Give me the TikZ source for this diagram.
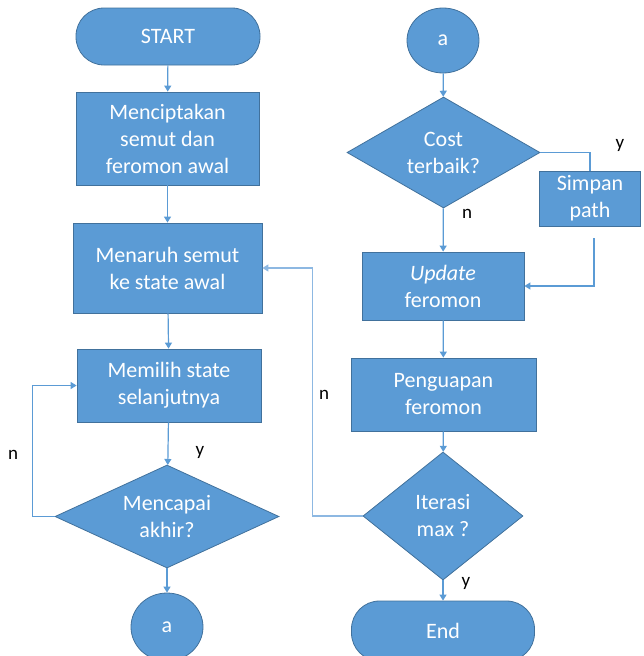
\documentclass[tikz,border=0pt]{standalone}
\usepackage{fontspec}
\setmainfont{Carlito}
\usetikzlibrary{shapes.geometric,arrows.meta}
\definecolor{fillc}{HTML}{5B9BD5}
\definecolor{bordc}{HTML}{41719C}
\definecolor{linec}{HTML}{5B9BD5}
\definecolor{loopc}{HTML}{8DB8E2}
\newcommand\myboxfont{\fontsize{22}{27}\selectfont}
\newcommand\mylabfont{\fontsize{19}{22}\selectfont}
\tikzset{
  base/.style={draw=bordc, fill=fillc, line width=0.8pt, text=white, font=\myboxfont, align=center, inner sep=0pt},
  proc/.style={base, rectangle},
  dec/.style={base, diamond},
  term/.style={base, rectangle, rounded corners=28pt},
  conn/.style={draw=linec, line width=1.2pt},
  arr/.style={conn, -{Triangle[length=6pt,width=7pt]}},
  loopline/.style={draw=loopc, line width=1.4pt, -{Triangle[length=6pt,width=7pt]}},
  lab/.style={font=\mylabfont, text=black, inner sep=0pt}
}
\begin{document}
\begin{tikzpicture}[x=1pt,y=-1pt]
\useasboundingbox (0,0) rectangle (644,656);
% left column
\node[term, minimum width=184pt, minimum height=57pt] (start) at (168,36.5) {START};
\node[proc, minimum width=183pt, minimum height=93pt] (b1) at (167.5,138.5) {Menciptakan\\semut dan\\feromon awal};
\node[proc, minimum width=189pt, minimum height=90pt] (b2) at (167.5,268) {Menaruh semut\\ke state awal};
\node[proc, minimum width=184pt, minimum height=73pt] (b3) at (169,385.5) {Memilih state\\selanjutnya};
\node[dec, shape aspect=2.17, minimum width=224pt, minimum height=103pt] (d1) at (167,516.5) {Mencapai\\akhir?};
\node[base, ellipse, minimum width=72pt, minimum height=68pt] (a1) at (167,627) {a};
% right column
\node[base, ellipse, minimum width=72pt, minimum height=65pt] (a2) at (443,40.5) {a};
\node[dec, shape aspect=1.74, minimum width=193pt, minimum height=111pt] (d2) at (443.5,152.5) {Cost\\terbaik?};
\node[proc, minimum width=101pt, minimum height=55pt] (sp) at (590,198.5) {Simpan\\path};
\node[proc, minimum width=162pt, minimum height=68pt] (up) at (443,286) {\textit{Update}\\feromon};
\node[proc, minimum width=185pt, minimum height=73pt] (pg) at (443.5,394.5) {Penguapan\\feromon};
\node[dec, shape aspect=1.25, minimum width=160pt, minimum height=128pt] (d3) at (443,516) {Iterasi\\max ?};
\node[term, minimum width=183pt, minimum height=60pt] (end) at (443,631) {End};
% connectors left
\draw[arr] (start) -- (b1);
\draw[arr] (b1) -- (b2);
\draw[arr] (b2) -- (b3);
\draw[arr] (b3) -- (d1);
\draw[arr] (d1) -- (a1);
\draw[arr] (d1.west) -- ++(-22,0) |- (b3.west);
% connectors right
\draw[arr] (a2) -- (d2);
\draw[conn] (d2.east) -| (sp.north);
\coordinate (spb) at (594,238);
\draw[arr] (spb) |- (up.east);
\draw[arr] (d2) -- (up);
\draw[arr] (up) -- (pg);
\draw[arr] (pg) -- (d3);
\draw[arr] (d3) -- (end);
\draw[loopline] (d3.west) -- ++(-50,0) |- (b2.east);
% labels
\node[lab] (ly1) at (200,452) {y};
\node[lab] (ln1) at (13,455) {n};
\node[lab] (ln2) at (324,395) {n};
\node[lab] (ly2) at (620,145) {y};
\node[lab] (ln3) at (467,214) {n};
\node[lab] (ly3) at (466,583) {y};
\end{tikzpicture}
\end{document}
